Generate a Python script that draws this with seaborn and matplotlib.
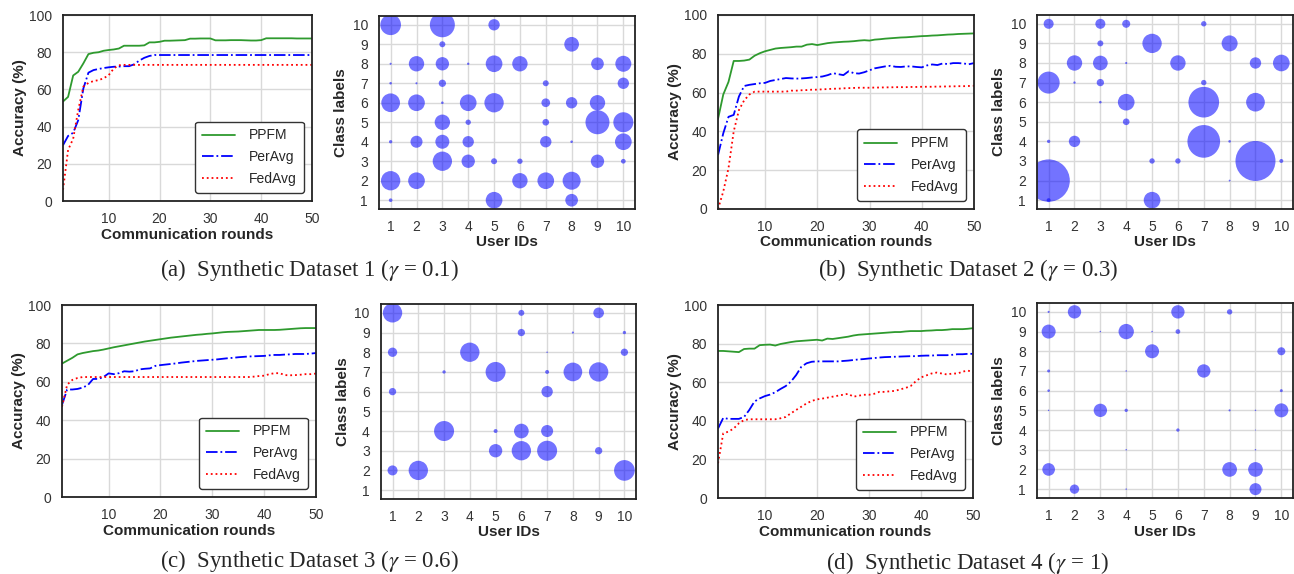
import numpy as np
import pandas as pd
import matplotlib
matplotlib.use('Agg')
import matplotlib.pyplot as plt
import seaborn as sns

# ---- data ----
rounds = list(range(1, 51))
methods = ['PPFM', 'PerAvg', 'FedAvg']

# dataset 1
ppfm_1 = [53.5, 56, 67.5, 69.5, 74, 79, 79.7, 80, 80.8, 81.2,
          81.5, 82, 83.5, 83.5, 83.5, 83.5, 83.7, 85.3, 85.3, 85.6,
          86.2, 86.2, 86.3, 86.4, 86.5, 87.3, 87.3, 87.4, 87.4, 87.4,
          86.4, 86.4, 86.4, 86.5, 86.5, 86.5, 86.4, 86.3, 86.3, 86.5,
          87.5, 87.5, 87.5, 87.5, 87.5, 87.5, 87.4, 87.4, 87.4, 87.4]
peravg_1 = [30, 35, 36.7, 43.5, 60.5, 69, 70.4, 71, 71.5, 71.9,
            72.2, 72.3, 72.5, 72.5, 73.5, 75.5, 77, 78, 78.5, 78.5,
            78.5, 78.5, 78.5, 78.5, 78.5, 78.5, 78.5, 78.5, 78.5, 78.5,
            78.5, 78.5, 78.5, 78.5, 78.5, 78.5, 78.5, 78.5, 78.5, 78.5,
            78.5, 78.5, 78.5, 78.5, 78.5, 78.5, 78.5, 78.5, 78.5, 78.5]
fedavg_1 = [6, 27.5, 33.5, 49, 61.5, 63.5, 64.5, 65, 66, 67.7,
            71.3, 73, 73.2, 73.2, 73.2, 73.2, 73.2, 73.2, 73.2, 73.2,
            73.2, 73.2, 73.2, 73.2, 73.2, 73.2, 73.2, 73.2, 73.2, 73.2,
            73.2, 73.2, 73.2, 73.2, 73.2, 73.2, 73.2, 73.2, 73.2, 73.2,
            73.2, 73.2, 73.2, 73.2, 73.2, 73.2, 73.2, 73.2, 73.2, 73.2]

# dataset 2
ppfm_2 = [46.5, 59, 65.5, 76.3, 76.3, 76.5, 77, 79, 80.3, 81.3,
          82, 82.7, 83, 83.2, 83.4, 83.7, 83.7, 84.7, 85, 84.5,
          85, 85.5, 85.8, 86, 86.2, 86.3, 86.5, 86.8, 87, 86.8,
          87.3, 87.5, 87.8, 88, 88.2, 88.4, 88.5, 88.7, 88.9, 89.1,
          89.2, 89.4, 89.5, 89.7, 89.9, 90, 90.2, 90.3, 90.4, 90.5]
peravg_2 = [27.8, 39, 47.5, 48.5, 58, 63.4, 64, 64.4, 64.8, 65,
            66, 66.5, 67, 67.5, 67.3, 67.2, 67.3, 67.5, 67.8, 68,
            68.3, 69, 70, 69.5, 69, 71, 70, 69.8, 70.5, 71.5,
            72.5, 73, 73.5, 73.8, 73.3, 73.2, 73.5, 73.5, 73.2, 73,
            74, 74.5, 74.2, 75, 74.7, 75.2, 75.2, 75, 74.6, 75.2]
fedavg_2 = [0, 9, 21, 40, 51, 56, 59, 60.5, 60.5, 60.5,
            60.5, 60.5, 60.5, 60.5, 61, 61, 61.2, 61.3, 61.5, 61.5,
            61.7, 61.8, 62, 62, 62.2, 62.3, 62.4, 62.5, 62.5, 62.5,
            62.6, 62.6, 62.7, 62.7, 62.8, 62.8, 62.8, 62.9, 62.9, 63,
            63, 63, 63.1, 63.1, 63.2, 63.2, 63.3, 63.3, 63.4, 63.5]

# dataset 3
ppfm_3 = [69.5, 71, 72.5, 74.3, 75, 75.5, 76, 76.3, 76.8, 77.4,
          78, 78.5, 79, 79.5, 80, 80.5, 81, 81.4, 81.8, 82.2,
          82.6, 83, 83.3, 83.6, 83.9, 84.2, 84.5, 84.7, 85, 85.2,
          85.5, 85.8, 86, 86.1, 86.2, 86.4, 86.6, 86.8, 87, 87,
          87, 87, 87.1, 87.3, 87.5, 87.7, 87.9, 88, 88, 88]
peravg_3 = [48, 56, 56, 56.3, 57, 58.3, 61.5, 61.5, 62.5, 64.4,
            64, 64.5, 65.5, 65.3, 65.5, 66.5, 66.8, 67, 68.3, 68.7,
            69, 69.3, 69.6, 70, 70.3, 70.6, 70.9, 71.1, 71.3, 71.5,
            71.7, 72, 72.3, 72.5, 72.8, 73, 73.2, 73.3, 73.4, 73.5,
            73.8, 74, 74, 74.2, 74.3, 74.5, 74.5, 74.5, 74.7, 75]
fedavg_3 = [47, 58.5, 61, 62, 62.5, 62.5, 62.5, 62.5, 62.5, 62.5,
            62.5, 62.5, 62.5, 62.5, 62.5, 62.5, 62.5, 62.5, 62.5, 62.5,
            62.5, 62.5, 62.5, 62.5, 62.5, 62.5, 62.5, 62.5, 62.5, 62.5,
            62.5, 62.5, 62.5, 62.5, 62.5, 62.5, 62.5, 62.7, 63, 63.2,
            64, 64.5, 64.5, 63.5, 63.4, 63.5, 63.7, 64, 64, 64.3]

# dataset 4
ppfm_4 = [76.2, 76.2, 76, 75.8, 75.6, 77.2, 77.4, 77.4, 79.2, 79.4,
          79.5, 79, 79.8, 80.3, 80.8, 81.2, 81.4, 81.6, 81.8, 82,
          81.6, 82.6, 82.4, 82.8, 83.2, 83.6, 84.2, 84.6, 84.8, 85,
          85.2, 85.4, 85.6, 85.8, 86, 86, 86.3, 86.5, 86.5, 86.5,
          86.7, 86.8, 87, 87, 87.2, 87.5, 87.5, 87.5, 87.7, 88]
peravg_4 = [36, 41.5, 41, 41, 41, 42, 45.6, 50, 51.6, 52.8,
            53.6, 54.8, 56.5, 58, 60.3, 63.7, 68, 69.8, 70.6, 70.8,
            70.8, 70.8, 70.8, 70.8, 71, 71.2, 71.5, 71.8, 72, 72.3,
            72.5, 72.8, 73, 73.1, 73.2, 73.3, 73.4, 73.5, 73.5, 73.7,
            73.8, 73.8, 74, 74, 74, 74.2, 74.5, 74.5, 74.7, 74.7]
fedavg_4 = [18, 33.5, 34.4, 36, 38.7, 40.4, 40.8, 40.8, 40.8, 40.8,
            40.8, 40.8, 41.3, 42, 43.9, 45.6, 47.3, 49, 50.3, 51.1,
            51.5, 52, 52.5, 53, 53.5, 54, 52.5, 53, 53.5, 53.5,
            54, 55, 55, 55.3, 55.5, 56.3, 57, 58, 60.5, 62.5,
            63.5, 64.5, 65, 64.5, 64, 64.5, 64.5, 65.5, 66, 65.3]

# class distribution per user (user id, class label, number of samples)
users_1 = [1, 1, 1, 1, 1, 1, 1,
           2, 2, 2, 2, 2,
           3, 3, 3, 3, 3, 3, 3, 3,
           4, 4, 4, 4, 4,
           5, 5, 5, 5, 5,
           6, 6, 6,
           7, 7, 7, 7, 7,
           8, 8, 8, 8, 8,
           9, 9, 9, 9,
           10, 10, 10, 10, 10]
labels_1 = [10, 8, 7, 6, 4, 2, 1,
            8, 7, 6, 4, 2,
            10, 9, 8, 7, 6, 5, 4, 3,
            8, 6, 5, 4, 3,
            10, 8, 6, 3, 1,
            8, 3, 2,
            7, 6, 5, 4, 2,
            9, 6, 4, 2, 1,
            8, 6, 5, 3,
            8, 7, 5, 4, 3]
counts_1 = [384, 4, 6, 314, 10, 336, 12,
            212, 4, 250, 130, 250,
            562, 32, 160, 48, 6, 212, 176, 336,
            5, 250, 26, 116, 160,
            116, 250, 336, 32, 250,
            212, 26, 212,
            32, 68, 40, 116, 250,
            194, 116, 6, 292, 144,
            144, 212, 518, 160,
            230, 116, 360, 250, 20]

users_2 = [1, 1, 1, 1, 1,
           2, 2, 2,
           3, 3, 3, 3, 3,
           4, 4, 4, 4,
           5, 5, 5,
           6, 6,
           7, 7, 7, 7,
           8, 8, 8,
           9, 9, 9,
           10, 10]
labels_2 = [10, 7, 4, 2, 1,
            8, 7, 4,
            10, 9, 8, 7, 6,
            10, 8, 6, 5,
            9, 3, 1,
            8, 3,
            10, 7, 6, 4,
            9, 4, 2,
            8, 6, 3,
            8, 3]
counts_2 = [90, 436, 10, 1613, 14,
            212, 5, 116,
            90, 32, 194, 48, 6,
            58, 4, 250, 40,
            336, 26, 250,
            212, 26,
            26, 26, 846, 960,
            230, 6, 3,
            116, 314, 1440,
            250, 14]

users_3 = [1, 1, 1, 1,
           2,
           3, 3,
           4,
           5, 5, 5,
           6, 6, 6, 6,
           7, 7, 7, 7, 7,
           8, 8,
           9, 9, 9,
           10, 10, 10]
labels_3 = [10, 8, 6, 2,
            2,
            7, 4,
            8,
            7, 4, 3,
            10, 9, 4, 3,
            8, 7, 6, 4, 3,
            9, 7,
            10, 7, 3,
            9, 8, 2]
counts_3 = [336, 78, 48, 90,
            336,
            10, 360,
            336,
            360, 14, 160,
            32, 48, 194, 336,
            2, 14, 116, 130, 360,
            4, 314,
            102, 336, 48,
            10, 48, 384]

users_4 = [1, 1, 1, 1, 1, 1,
           2, 2,
           3, 3,
           4, 4, 4, 4, 4,
           5, 5,
           6, 6, 6,
           7,
           8, 8, 8,
           9, 9, 9, 9, 9,
           10, 10, 10]
labels_4 = [10, 9, 7, 6, 5, 2,
            10, 1,
            9, 5,
            9, 7, 5, 3, 1,
            9, 8,
            10, 9, 4,
            7,
            10, 5, 2,
            5, 4, 3, 2, 1,
            8, 6, 5]
counts_4 = [4, 176, 8, 6, 2, 144,
            160, 78,
            2, 160,
            212, 2, 10, 2, 2,
            2, 176,
            160, 20, 10,
            160,
            26, 4, 194,
            2, 1, 2, 194, 130,
            58, 8, 176]

line_data = [(ppfm_1, peravg_1, fedavg_1), (ppfm_2, peravg_2, fedavg_2),
             (ppfm_3, peravg_3, fedavg_3), (ppfm_4, peravg_4, fedavg_4)]
bubble_data = [(users_1, labels_1, counts_1), (users_2, labels_2, counts_2),
               (users_3, labels_3, counts_3), (users_4, labels_4, counts_4)]
captions = ['(a)  Synthetic Dataset 1 ($\\gamma$ = 0.1)',
            '(b)  Synthetic Dataset 2 ($\\gamma$ = 0.3)',
            '(c)  Synthetic Dataset 3 ($\\gamma$ = 0.6)',
            '(d)  Synthetic Dataset 4 ($\\gamma$ = 1)']

# ---- style ----
sns.set_theme(style='whitegrid')
plt.rcParams['font.family'] = ['Liberation Sans', 'DejaVu Sans']
plt.rcParams['axes.edgecolor'] = '#222222'
plt.rcParams['axes.linewidth'] = 1.3
plt.rcParams['grid.color'] = '#d9d9d9'
plt.rcParams['mathtext.fontset'] = 'stix'
plt.rcParams['xtick.color'] = '#333333'
plt.rcParams['ytick.color'] = '#333333'

fig = plt.figure(figsize=(12.94, 5.74), dpi=100)

line_rects = [[0.0487, 0.6498, 0.1924, 0.324],
              [0.5549, 0.6359, 0.1978, 0.338],
              [0.0479, 0.1341, 0.1963, 0.3345],
              [0.5549, 0.1324, 0.1971, 0.3362]]
bubble_rects = [[0.2929, 0.6359, 0.1978, 0.3362],
                [0.8014, 0.6359, 0.1978, 0.338],
                [0.2944, 0.1307, 0.1971, 0.3397],
                [0.8014, 0.1324, 0.1978, 0.3397]]
caption_pos = [(0.239, 0.529), (0.748, 0.529), (0.239, 0.022), (0.748, 0.019)]

line_styles = {'PPFM': ('#2e9a2e', '-'), 'PerAvg': ('blue', '-.'), 'FedAvg': ('red', ':')}
max_count = 1613
max_size = 1613 * 0.576

for i in range(4):
    # accuracy curves
    ax = fig.add_axes(line_rects[i])
    for name, vals in zip(methods, line_data[i]):
        col, ls = line_styles[name]
        sns.lineplot(x=rounds, y=vals, ax=ax, color=col, linestyle=ls,
                     linewidth=1.3, label=name)
    ax.set_xlim(1, 50)
    ax.set_ylim(0, 100)
    ax.set_xticks([10, 20, 30, 40, 50])
    ax.set_yticks([0, 20, 40, 60, 80, 100])
    ax.tick_params(labelsize=10, pad=2)
    ax.set_xlabel('Communication rounds', fontsize=11, fontweight='bold', labelpad=1)
    ax.set_ylabel('Accuracy (%)', fontsize=11, fontweight='bold', labelpad=1)
    leg = ax.legend(loc='lower right', fontsize=10, frameon=True, fancybox=True,
                    handlelength=2.4, handletextpad=1.0, labelspacing=0.55,
                    borderaxespad=0.6, borderpad=0.5)
    leg.get_frame().set_edgecolor('#333333')
    leg.get_frame().set_linewidth(1.0)
    leg.get_frame().set_alpha(1)

    # samples per class per user
    bx = fig.add_axes(bubble_rects[i])
    users, labels, counts = bubble_data[i]
    df = pd.DataFrame({'user': users, 'label': labels, 'count': counts})
    sns.scatterplot(data=df, x='user', y='label', size='count',
                    sizes=(0, max_size), size_norm=(0, max_count),
                    color='blue', alpha=0.55, linewidth=0, legend=False, ax=bx)
    bx.set_xlim(0.55, 10.45)
    bx.set_ylim(0.55, 10.45)
    bx.set_xticks(range(1, 11))
    bx.set_yticks(range(1, 11))
    bx.tick_params(labelsize=10, pad=2)
    bx.set_xlabel('User IDs', fontsize=11, fontweight='bold', labelpad=1)
    bx.set_ylabel('Class labels', fontsize=11, fontweight='bold', labelpad=3)

    fig.text(caption_pos[i][0], caption_pos[i][1], captions[i], ha='center',
             va='center', fontsize=16.5, family=['Liberation Serif', 'DejaVu Serif'])

fig.savefig('out.png', dpi=100)
